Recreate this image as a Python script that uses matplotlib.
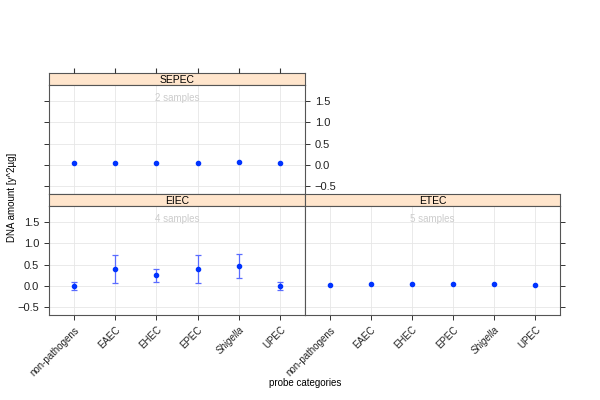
import matplotlib
matplotlib.use("Agg")
import matplotlib.pyplot as plt
import numpy as np

categories = ["non-pathogens", "EAEC", "EHEC", "EPEC", "Shigella", "UPEC"]

sepec_mean = [0.04, 0.055, 0.05, 0.055, 0.063, 0.04]

eiec_mean = [0.0, 0.40, 0.25, 0.40, 0.47, 0.0]
eiec_lo = [-0.09, 0.07, 0.09, 0.07, 0.19, -0.09]
eiec_hi = [0.09, 0.73, 0.40, 0.73, 0.75, 0.09]

etec_mean = [0.03, 0.055, 0.055, 0.055, 0.05, 0.03]

yticks = [-0.5, 0.0, 0.5, 1.0, 1.5]
ylim = (-0.68, 1.87)

W, H = 600, 400
fig = plt.figure(figsize=(6, 4), dpi=100)
plt.rcParams['font.family'] = ['Liberation Sans', 'DejaVu Sans']

point_col = "#0033ff"
err_col = "#5a6cff"
border = "#555555"


def box(x0, y0, x1, y1):
    return [x0 / W, (H - y1) / H, (x1 - x0) / W, (y1 - y0) / H]


def panel(x0, x1, ytop, name, nsamp, mean, lo=None, hi=None):
    strip = fig.add_axes(box(x0, ytop, x1, ytop + 12))
    strip.set_facecolor("#ffe5cc")
    strip.set_xticks([]); strip.set_yticks([])
    for s in strip.spines.values():
        s.set_color(border); s.set_linewidth(0.8)
    strip.text(0.5, 0.45, name, ha="center", va="center", fontsize=7.5, transform=strip.transAxes)

    ax = fig.add_axes(box(x0, ytop + 12, x1, ytop + 121))
    x = np.arange(1, len(categories) + 1)
    ax.set_xlim(0.4, 6.6)
    ax.set_ylim(*ylim)
    ax.set_xticks(x)
    ax.set_yticks(yticks)
    ax.grid(True, color="#e6e6e6", linewidth=0.6)
    ax.set_axisbelow(True)
    for s in ax.spines.values():
        s.set_color(border); s.set_linewidth(0.8)
    if lo is not None:
        yerr = [np.array(mean) - np.array(lo), np.array(hi) - np.array(mean)]
        ax.errorbar(x, mean, yerr=yerr, fmt="none", ecolor=err_col, elinewidth=0.9,
                    capsize=2.5, capthick=0.9)
    ax.plot(x, mean, "o", color=point_col, markersize=3, zorder=5)
    ax.text(0.5, 0.88, nsamp, ha="center", va="center", color="#cccccc",
            fontsize=7, transform=ax.transAxes)
    ax.tick_params(direction="out", length=3.5, width=0.7, colors="#333333",
                   labelsize=8, labelcolor="#222222")
    ax.tick_params(axis="x", labelsize=7)
    return ax


ax_s = panel(49, 305, 73, "SEPEC", "2 samples", sepec_mean)
ax_l = panel(49, 305, 194, "EIEC", "4 samples", eiec_mean, eiec_lo, eiec_hi)
ax_r = panel(305, 560, 194, "ETEC", "5 samples", etec_mean)

# top panel: y labels on right, no bottom ticks
ax_s.tick_params(bottom=False, labelbottom=False, top=False, labeltop=False,
                 left=True, labelleft=False, right=True, labelright=True)
# top ticks sit above the strip
tw = fig.add_axes(box(49, 73, 305, 182))
tw.patch.set_visible(False)
tw.set_xlim(0.4, 6.6)
tw.set_xticks(np.arange(1, 7))
tw.set_yticks([])
for s in tw.spines.values():
    s.set_visible(False)
tw.tick_params(bottom=False, labelbottom=False, top=True, labeltop=False,
               direction="out", length=3.5, width=0.8, colors="#333333")

ax_l.tick_params(left=True, labelleft=True, right=False, labelright=False)
ax_r.tick_params(left=False, labelleft=False, right=True, labelright=False)

for ax in (ax_l, ax_r):
    ax.set_xticklabels(categories, rotation=45, ha="right", rotation_mode="anchor")
    for lab in ax.get_xticklabels():
        if lab.get_text() == "Shigella":
            lab.set_fontstyle("italic")

fig.text(0.5083, (H - 383) / H, "probe categories", ha="center", va="center", fontsize=7)
fig.text(12 / W, (H - 197) / H, "DNA amount [y^2µg]", ha="center", va="center",
         rotation=90, fontsize=7)

fig.savefig("out.png", dpi=100)
